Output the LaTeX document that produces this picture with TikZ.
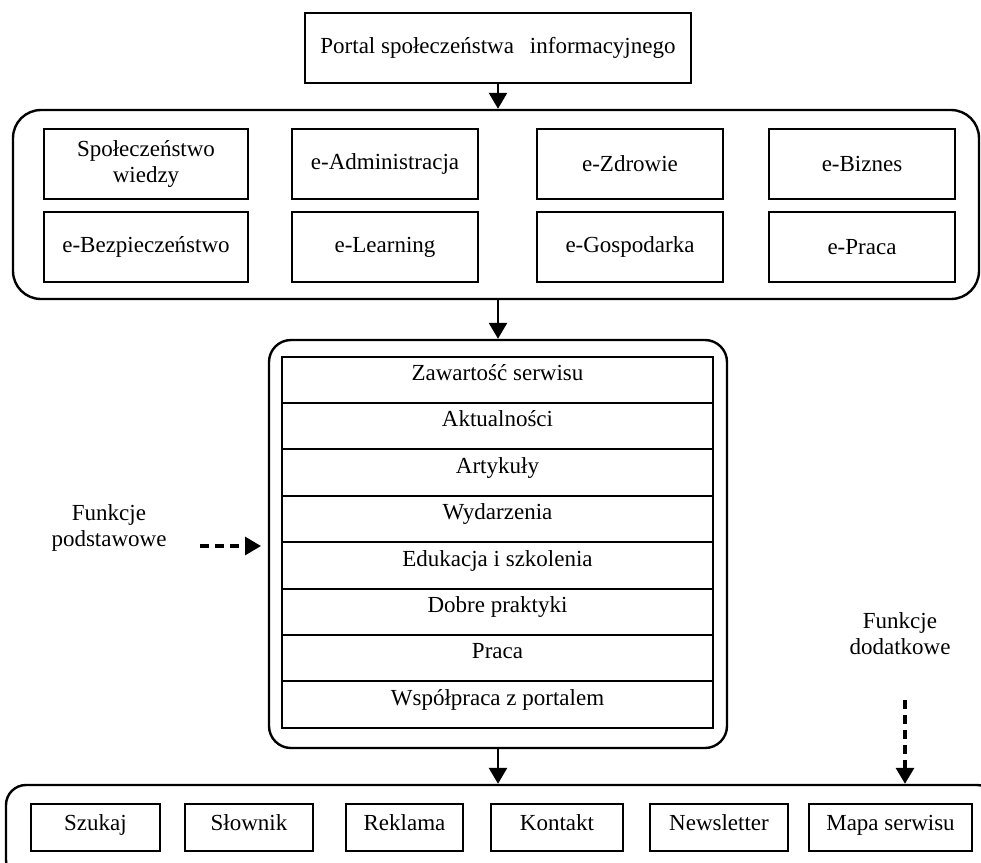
\documentclass[tikz,border=0pt]{standalone}
\usepackage{fontspec}
\setmainfont{Liberation Serif}
\usetikzlibrary{arrows.meta}

\tikzset{
  box/.style={draw, line width=1pt, inner sep=0pt, minimum height=35pt, align=center},
  frame/.style={draw, line width=1.2pt, inner sep=0pt},
  row/.style={draw, line width=1pt, inner sep=0pt, minimum width=215.5pt, minimum height=23.2pt, text height=7.7pt, text depth=7pt},
  tab/.style={draw, line width=1pt, inner sep=0pt, minimum height=23.5pt, text height=7.7pt, text depth=5pt},
  arr/.style={line width=1.3pt, -{Triangle[length=8pt,width=9pt]}},
  dasharr/.style={arr, line width=1.6pt, dash pattern=on 4.5pt off 3pt},
}

\begin{document}
\begin{tikzpicture}[x=0.5pt, y=-0.5pt, font=\fontsize{11.5}{13}\selectfont]
    \useasboundingbox (0,0) rectangle (981,863);
    \clip (0,0) rectangle (981,863);
    % portal
    \node[box, minimum width=193pt] (portal) at (498,48) {Portal społeczeństwa\hspace{8pt}informacyjnego};
    % obszary
    \node[frame, rounded corners=14pt, minimum width=483pt, minimum height=94.5pt] (outA) at (496,204.5) {};
    \node[box, minimum width=102pt] (wiedza) at (146,164) {Społeczeństwo\\wiedzy};
    \node[box, minimum width=93pt] (admin) at (385,164) {e-Administracja};
    \node[box, minimum width=93pt] (zdrowie) at (630,164) {e-Zdrowie};
    \node[box, minimum width=93pt] (biznes) at (862,164) {e-Biznes};
    \node[box, minimum width=102pt] (bezp) at (146,247) {e-Bezpieczeństwo};
    \node[box, minimum width=93pt] (learn) at (385,247) {e-Learning};
    \node[box, minimum width=93pt] (gosp) at (630,247) {e-Gospodarka};
    \node[box, minimum width=93pt] (epraca) at (862,247) {e-Praca};
    % funkcje podstawowe
    \node[frame, rounded corners=11pt, minimum width=229pt, minimum height=204pt] (outB) at (498,544) {};
    \node[row] (r1) at (497.5,379.7) {Zawartość serwisu};
    \node[row] (r2) at (497.5,426.1) {Aktualności};
    \node[row] (r3) at (497.5,472.5) {Artykuły};
    \node[row] (r4) at (497.5,518.9) {Wydarzenia};
    \node[row] (r5) at (497.5,565.3) {Edukacja i szkolenia};
    \node[row] (r6) at (497.5,611.7) {Dobre praktyki};
    \node[row] (r7) at (497.5,658.1) {Praca};
    \node[row] (r8) at (497.5,704.5) {Współpraca z portalem};
    % funkcje dodatkowe
    \node[frame, rounded corners=10pt, minimum width=495.5pt, minimum height=47.5pt] (outC) at (501.5,832.5) {};
    \node[tab, minimum width=64.5pt] (szukaj) at (95.5,827.5) {Szukaj};
    \node[tab, minimum width=64pt] (slownik) at (249,827.5) {Słownik};
    \node[tab, minimum width=58.5pt] (reklama) at (404.5,827.5) {Reklama};
    \node[tab, minimum width=66pt] (kontakt) at (557,827.5) {Kontakt};
    \node[tab, minimum width=69pt] (news) at (719,827.5) {Newsletter};
    \node[tab, minimum width=81.5pt] (mapa) at (890.5,827.5) {Mapa serwisu};
    % etykiety
    \node[align=center] (fp) at (109,528) {Funkcje\\podstawowe};
    \node[align=center] (fd) at (900,634) {Funkcje\\dodatkowe};
    \coordinate (fpStart) at (200,546);
    \coordinate (fpEnd) at (261,546);
    \coordinate (fdStart) at (905,700);
    % strzalki
    \draw[arr] (portal.south) -- (portal.south |- outA.north);
    \draw[arr] (outB.north |- outA.south) -- (outB.north);
    \draw[arr] (outB.south) -- (outB.south |- outC.north);
    \draw[dasharr] (fpStart) -- (fpEnd);
    \draw[dasharr] (fdStart) -- (fdStart |- outC.north);
\end{tikzpicture}
\end{document}
